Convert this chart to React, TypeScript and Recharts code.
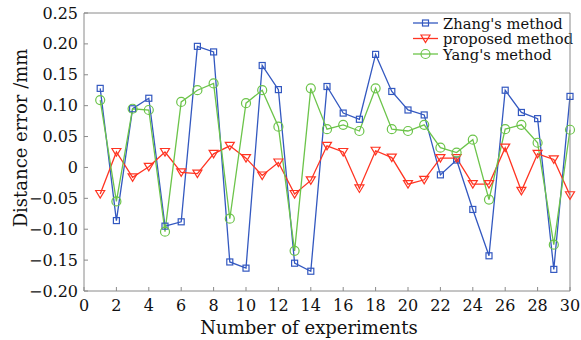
import React from 'react';
import { LineChart, Line, XAxis, YAxis, Customized } from 'recharts';

const experiments = Array.from({ length: 30 }, (_, i) => i + 1);
const zhang = [0.128, -0.086, 0.095, 0.112, -0.095, -0.088, 0.196, 0.187, -0.153, -0.163, 0.165, 0.126, -0.155, -0.168, 0.131, 0.088, 0.078, 0.183, 0.123, 0.093, 0.085, -0.012, 0.012, -0.068, -0.143, 0.125, 0.089, 0.079, -0.165, 0.115];
const proposed = [-0.043, 0.025, -0.016, 0.001, 0.025, -0.008, -0.01, 0.022, 0.035, 0.015, -0.013, 0.008, -0.043, -0.021, 0.035, 0.025, -0.034, 0.027, 0.016, -0.027, -0.02, 0.015, 0.015, -0.027, -0.027, 0.032, -0.038, 0.022, 0.013, -0.045];
const yang = [0.109, -0.055, 0.095, 0.093, -0.104, 0.106, 0.125, 0.136, -0.083, 0.104, 0.125, 0.066, -0.135, 0.128, 0.062, 0.069, 0.059, 0.128, 0.062, 0.059, 0.069, 0.032, 0.024, 0.045, -0.052, 0.062, 0.069, 0.04, -0.125, 0.061];
const xTicks = [0, 2, 4, 6, 8, 10, 12, 14, 16, 18, 20, 22, 24, 26, 28, 30];
const yTicks = [-0.2, -0.15, -0.1, -0.05, 0, 0.05, 0.1, 0.15, 0.2, 0.25];

const data = experiments.map((n, i) => ({ n, zhang: zhang[i], proposed: proposed[i], yang: yang[i] }));

const BLUE = '#3358c0';
const RED = '#ff3422';
const GREEN = '#6cc44a';
const FRAME = '#8a8a8a';
const FONT = 'DejaVu Serif';

const fmtY = (v: number) => (Math.abs(v) < 1e-9 ? '0' : (v < 0 ? '\u2212' : '') + Math.abs(v).toFixed(2));

const Square = ({ cx, cy, color }: any) => (
  <rect x={cx - 3} y={cy - 3} width={6} height={6} fill="none" stroke={color} strokeWidth={1.2} />
);
const Tri = ({ cx, cy, color }: any) => (
  <path d={`M${cx - 4.5},${cy - 3.5} L${cx + 4.5},${cy - 3.5} L${cx},${cy + 4} Z`} fill="none" stroke={color} strokeWidth={1.2} />
);
const Circ = ({ cx, cy, color }: any) => (
  <circle cx={cx} cy={cy} r={4.5} fill="none" stroke={color} strokeWidth={1.2} />
);

const LeftTick = (props: any) => {
  const { x, y, payload } = props;
  return (
    <g>
      <line x1={x} x2={x + 4} y1={y} y2={y} stroke={FRAME} strokeWidth={1} />
      <text x={x - 6} y={y} textAnchor="end" dominantBaseline="central" fontFamily={FONT} fontSize={16} fill="#111">
        {fmtY(payload.value)}
      </text>
    </g>
  );
};
const RightTick = (props: any) => {
  const { x, y } = props;
  return <line x1={x} x2={x - 4} y1={y} y2={y} stroke={FRAME} strokeWidth={1} />;
};
const BottomTick = (props: any) => {
  const { x, y, payload } = props;
  return (
    <g>
      <line x1={x} x2={x} y1={y} y2={y - 4} stroke={FRAME} strokeWidth={1} />
      <text x={x} y={y + 14} textAnchor="middle" dominantBaseline="central" fontFamily={FONT} fontSize={16} fill="#111">
        {payload.value}
      </text>
    </g>
  );
};

const legendItems = [
  { label: "Zhang's method", color: BLUE, Shape: Square },
  { label: 'proposed method', color: RED, Shape: Tri },
  { label: "Yang's method", color: GREEN, Shape: Circ },
];

const Overlay = () => (
  <g>
    <text x={309} y={327} textAnchor="middle" dominantBaseline="central" fontFamily={FONT} fontSize={18} fill="#111">
      Number of experiments
    </text>
    <text x={20} y={138} textAnchor="middle" dominantBaseline="central" fontFamily={FONT} fontSize={18} fill="#111" transform="rotate(-90 20 138)">
      Distance error /mm
    </text>
    {legendItems.map((it, i) => {
      const y = 23 + i * 15.5;
      return (
        <g key={it.label}>
          <line x1={413} x2={438} y1={y} y2={y} stroke={it.color} strokeWidth={1.3} />
          <it.Shape cx={425.5} cy={y} color={it.color} />
          <text x={443} y={y} dominantBaseline="central" fontFamily={FONT} fontSize={14.7} fill="#111">
            {it.label}
          </text>
        </g>
      );
    })}
  </g>
);

export default function App() {
  return (
    <div style={{ position: 'absolute', left: 0, top: 0, background: '#fff' }}>
      <LineChart width={581} height={340} data={data} margin={{ top: 12, right: 10, bottom: 0, left: 34 }}>
        <XAxis dataKey="n" type="number" domain={[0, 30]} ticks={xTicks} interval={0} height={49}
          axisLine={{ stroke: FRAME }} tickLine={false} tickSize={0} tickMargin={0} tick={<BottomTick />} />
        <XAxis xAxisId="top" orientation="top" dataKey="n" type="number" domain={[0, 30]} height={1}
          axisLine={{ stroke: FRAME }} tickLine={false} tick={false} />
        <YAxis type="number" domain={[-0.2, 0.25]} ticks={yTicks} interval={0} width={50}
          axisLine={{ stroke: FRAME }} tickLine={false} tickSize={0} tickMargin={0} tick={<LeftTick />} />
        <YAxis yAxisId="right" orientation="right" type="number" domain={[-0.2, 0.25]} ticks={yTicks} interval={0} width={1}
          axisLine={{ stroke: FRAME }} tickLine={false} tickSize={0} tickMargin={0} tick={<RightTick />} />
        <Line dataKey="zhang" stroke={BLUE} strokeWidth={1.3} isAnimationActive={false}
          dot={(p: any) => <Square key={p.index} cx={p.cx} cy={p.cy} color={BLUE} />} />
        <Line dataKey="proposed" stroke={RED} strokeWidth={1.3} isAnimationActive={false}
          dot={(p: any) => <Tri key={p.index} cx={p.cx} cy={p.cy} color={RED} />} />
        <Line dataKey="yang" stroke={GREEN} strokeWidth={1.3} isAnimationActive={false}
          dot={(p: any) => <Circ key={p.index} cx={p.cx} cy={p.cy} color={GREEN} />} />
        <Customized component={<Overlay />} />
      </LineChart>
    </div>
  );
}
